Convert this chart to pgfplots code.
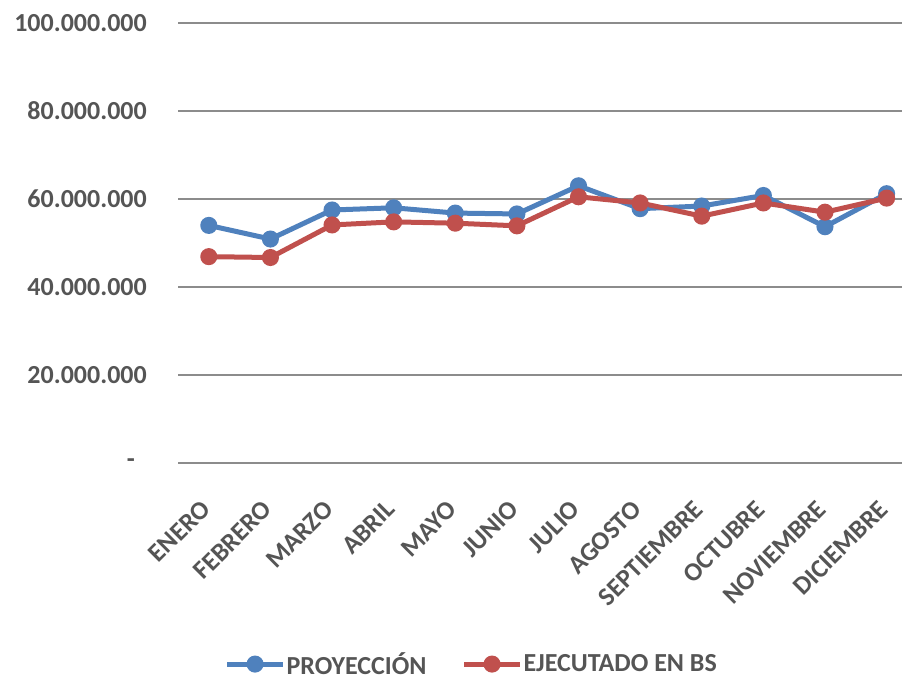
\documentclass[border=0pt]{standalone}
\usepackage{fontspec}
\setmainfont{Carlito}
\usepackage{pgfplots}
\pgfplotsset{compat=1.18}
\definecolor{txt}{HTML}{555555}
\definecolor{grd}{HTML}{8C8C8C}
\definecolor{bl}{HTML}{4F81BD}
\definecolor{rd}{HTML}{C0504D}
\begin{document}
\begin{tikzpicture}
\path[fill=white] (0,0) rectangle (902pt,677pt);
\begin{axis}[
  at={(178pt,214pt)}, anchor=south west,
  scale only axis, width=724pt, height=440pt,
  xmin=-0.5, xmax=11.25, ymin=0, ymax=100000000,
  clip=false,
  scaled y ticks=false,
  axis line style={draw=none},
  major tick length=0pt,
  ymajorgrids, grid style={grd, line width=2pt},
  xtick={0,...,11},
  xticklabels={ENERO,FEBRERO,MARZO,ABRIL,MAYO,JUNIO,JULIO,AGOSTO,SEPTIEMBRE,OCTUBRE,NOVIEMBRE,DICIEMBRE},
  ytick={0,20000000,40000000,60000000,80000000,100000000},
  yticklabels={{-\hspace*{12pt}},20.000.000,40.000.000,60.000.000,80.000.000,100.000.000},
  yticklabel style={inner sep=0pt, xshift=-31pt, anchor=east, font=\fontsize{26}{30}\selectfont\bfseries, text=txt},
  xticklabel style={inner sep=0pt, yshift=-42pt, xshift=-3pt, rotate=45, anchor=east, font=\fontsize{26}{30}\selectfont\bfseries, text=txt},
  legend style={at={(0.405,-0.457)}, anchor=center, draw=none, fill=none, legend columns=2,
    font=\fontsize{26}{30}\selectfont\bfseries, text=txt,
    /tikz/every even column/.append style={column sep=34pt},
    nodes={inner sep=1pt}},
  legend image code/.code={\draw[mark repeat=2,mark phase=2,#1] plot coordinates {(0pt,0pt) (28pt,0pt) (56pt,0pt)};},
]
\addplot[bl, line width=5pt, mark=*, mark size=6pt, mark options={solid}] coordinates {
(0,54000000) (1,50900000) (2,57500000) (3,58000000) (4,56800000) (5,56600000)
(6,63000000) (7,57800000) (8,58400000) (9,60800000) (10,53700000) (11,61200000)};
\addlegendentry{PROYECCIÓN}
\addplot[rd, line width=5pt, mark=*, mark size=6pt, mark options={solid}] coordinates {
(0,46900000) (1,46700000) (2,54100000) (3,54800000) (4,54500000) (5,53900000)
(6,60500000) (7,59100000) (8,56100000) (9,59100000) (10,57000000) (11,60200000)};
\addlegendentry{EJECUTADO EN BS}
\end{axis}
\pgfresetboundingbox
\path (0,0) rectangle (902pt,677pt);
\end{tikzpicture}
\end{document}
